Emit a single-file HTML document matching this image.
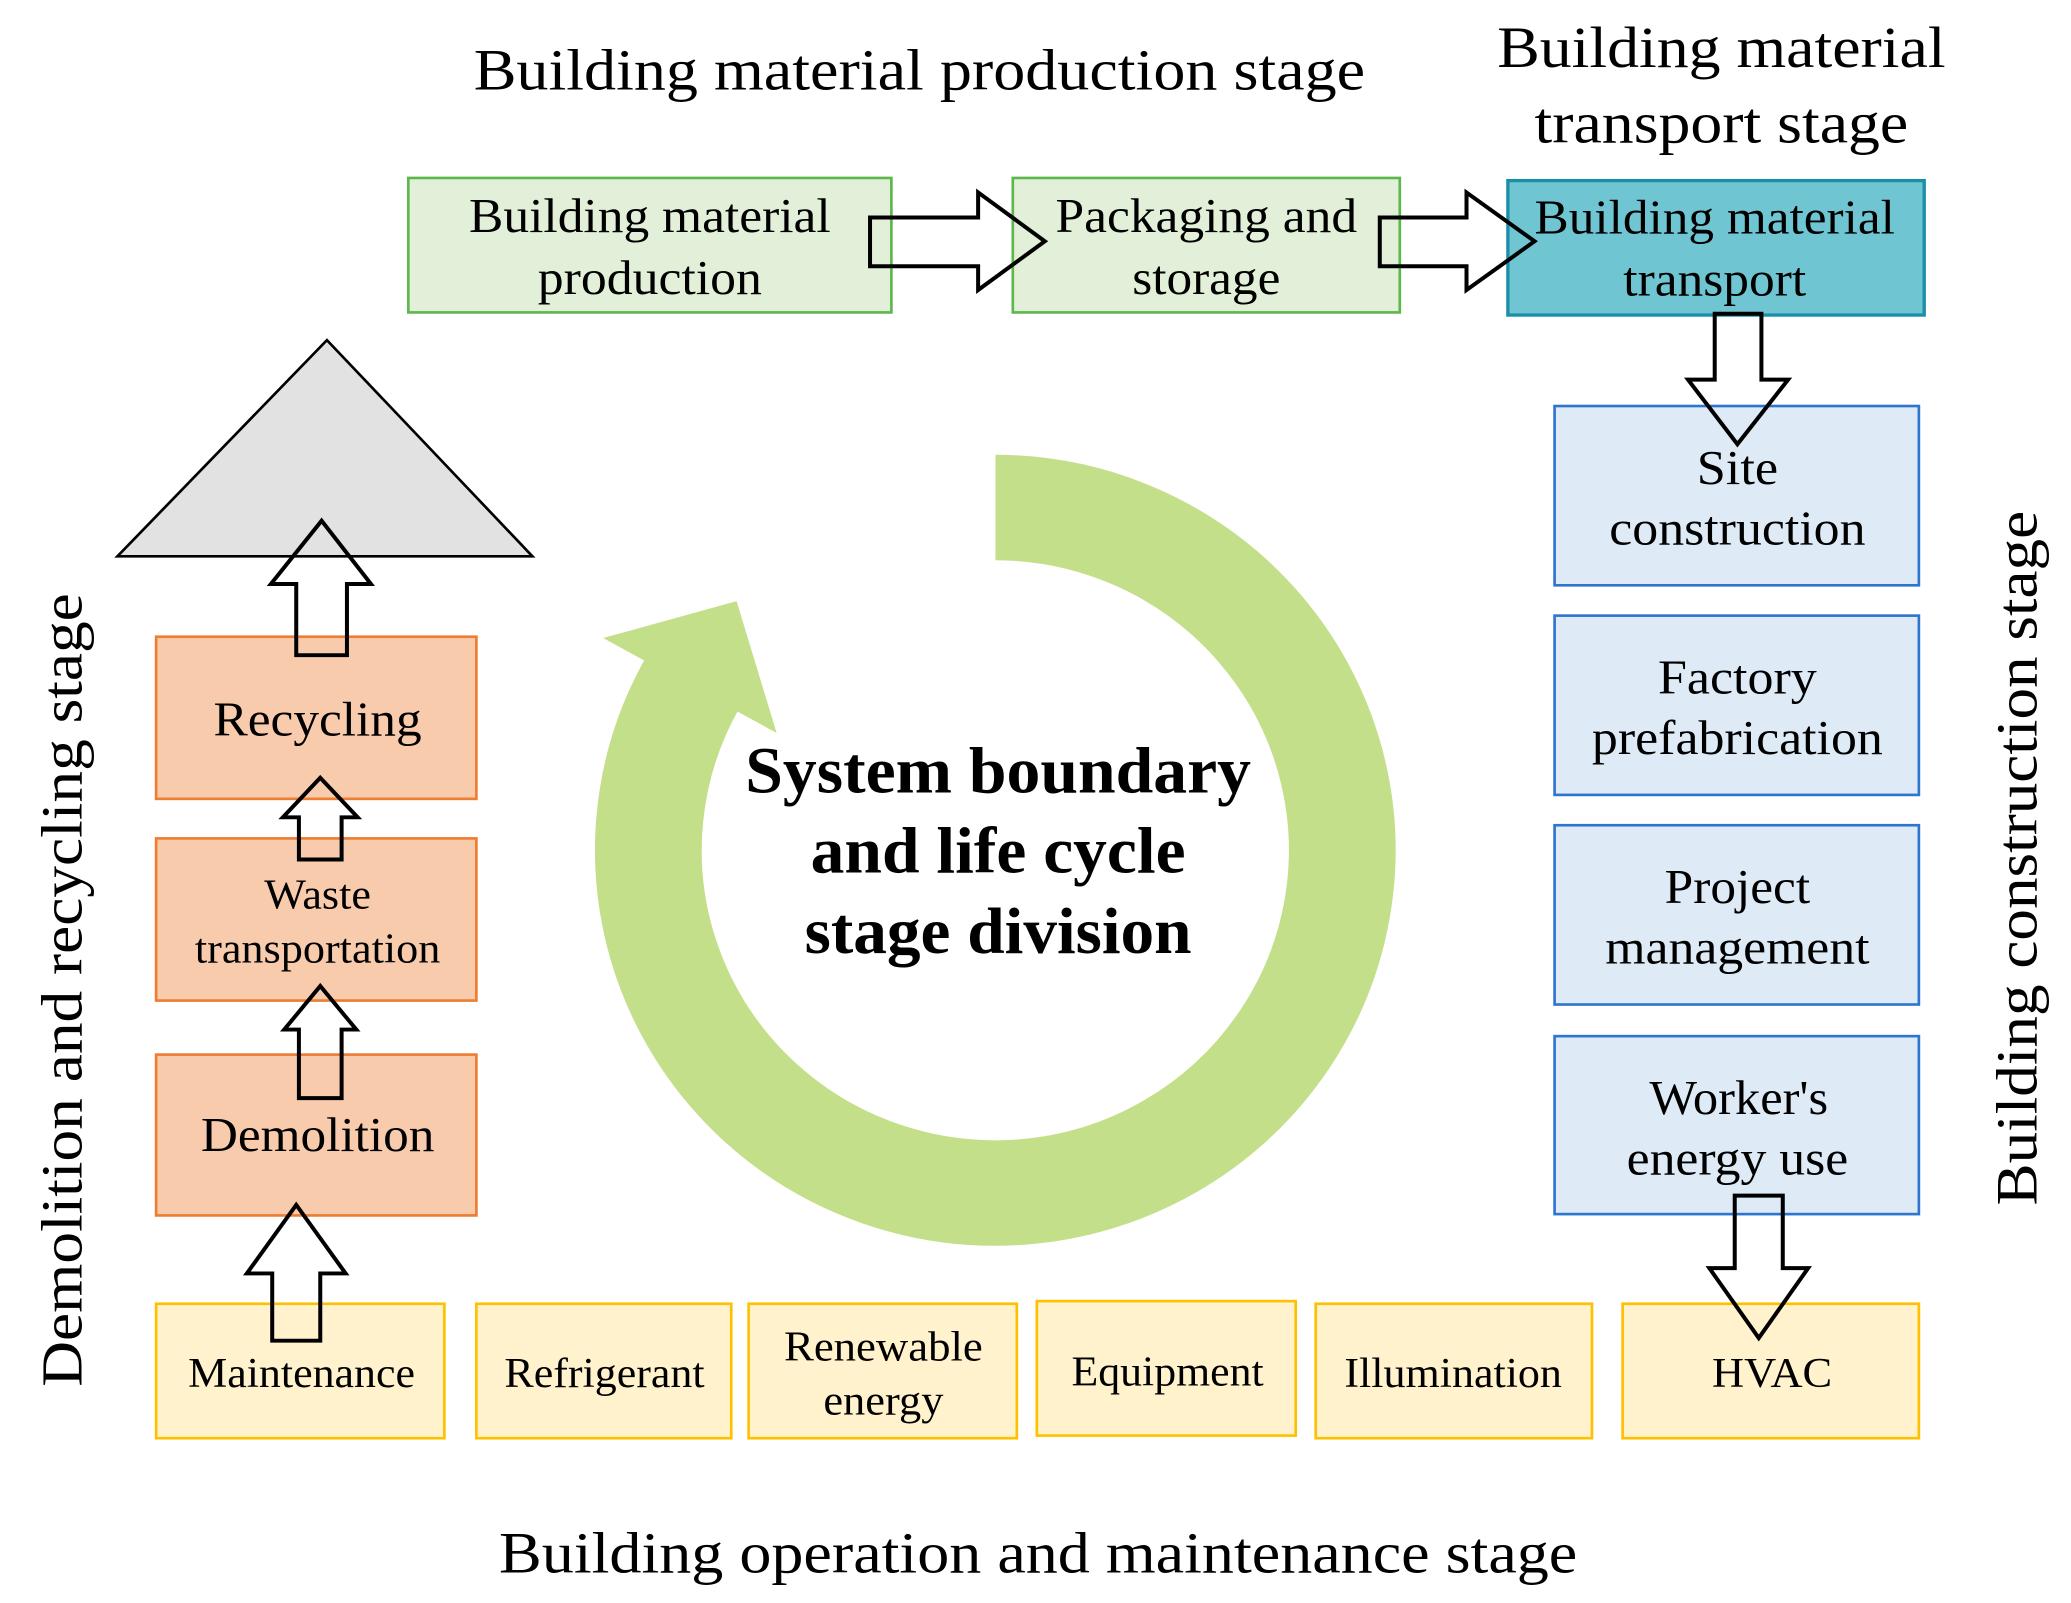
<!DOCTYPE html>
<html><head><meta charset="utf-8"><style>
html,body{margin:0;padding:0;background:#fff;}
svg{display:block;}
text{font-family:"Liberation Serif",serif;fill:#000;}
</style></head><body>
<svg width="2071" height="1603" viewBox="0 0 1552 1216" preserveAspectRatio="none" xmlns="http://www.w3.org/2000/svg">
<!-- titles -->
<g font-size="44" text-anchor="middle" lengthAdjust="spacingAndGlyphs">
<text x="689" y="68" textLength="668" lengthAdjust="spacingAndGlyphs">Building material production stage</text>
<text x="1290" y="51" textLength="336" lengthAdjust="spacingAndGlyphs">Building material</text>
<text x="1290" y="108" textLength="280" lengthAdjust="spacingAndGlyphs">transport stage</text>
<text x="778" y="1193" textLength="808" lengthAdjust="spacingAndGlyphs">Building operation and maintenance stage</text>
<text transform="translate(1526,651) rotate(-90)" textLength="527" lengthAdjust="spacingAndGlyphs">Building construction stage</text>
<text transform="translate(61,751) rotate(-90)" textLength="602" lengthAdjust="spacingAndGlyphs">Demolition and recycling stage</text>
</g>

<!-- top boxes -->
<rect x="306" y="135" width="362" height="102" fill="#e2f0d9" stroke="#5cb84a" stroke-width="2"/>
<rect x="759" y="135" width="290" height="102" fill="#e2f0d9" stroke="#5cb84a" stroke-width="2"/>
<rect x="1130" y="137" width="312" height="102" fill="#70c5d2" stroke="#1a8fa8" stroke-width="2.5"/>
<g font-size="37" text-anchor="middle">
<text x="487" y="176" textLength="271" lengthAdjust="spacingAndGlyphs">Building material</text><text x="487" y="223" textLength="168" lengthAdjust="spacingAndGlyphs">production</text>
<text x="904" y="176" textLength="226" lengthAdjust="spacingAndGlyphs">Packaging and</text><text x="904" y="223" textLength="111" lengthAdjust="spacingAndGlyphs">storage</text>
<text x="1285" y="177" textLength="270" lengthAdjust="spacingAndGlyphs">Building material</text><text x="1285" y="224" textLength="137" lengthAdjust="spacingAndGlyphs">transport</text>
</g>

<!-- blue boxes -->
<g fill="#deebf7" stroke="#2e75d0" stroke-width="2">
<rect x="1165" y="308" width="273" height="136"/>
<rect x="1165" y="467" width="273" height="136"/>
<rect x="1165" y="626" width="273" height="136"/>
<rect x="1165" y="786" width="273" height="135"/>
</g>
<g font-size="37" text-anchor="middle">
<text x="1302" y="367" textLength="61" lengthAdjust="spacingAndGlyphs">Site</text><text x="1302" y="413" textLength="192" lengthAdjust="spacingAndGlyphs">construction</text>
<text x="1302" y="526" textLength="119" lengthAdjust="spacingAndGlyphs">Factory</text><text x="1302" y="572" textLength="218" lengthAdjust="spacingAndGlyphs">prefabrication</text>
<text x="1302" y="685" textLength="109" lengthAdjust="spacingAndGlyphs">Project</text><text x="1302" y="731" textLength="198" lengthAdjust="spacingAndGlyphs">management</text>
<text x="1303" y="845" textLength="134" lengthAdjust="spacingAndGlyphs">Worker's</text><text x="1302" y="891" textLength="166" lengthAdjust="spacingAndGlyphs">energy use</text>
</g>

<!-- triangle -->
<polygon points="245,258 88,422 399,422" fill="#e2e2e2" stroke="#000" stroke-width="2"/>

<!-- orange boxes -->
<g fill="#f8cbad" stroke="#ed7d31" stroke-width="2">
<rect x="117" y="483" width="240" height="123"/>
<rect x="117" y="636" width="240" height="123"/>
<rect x="117" y="800" width="240" height="122"/>
</g>
<g text-anchor="middle">
<text x="238" y="558" font-size="37" textLength="156" lengthAdjust="spacingAndGlyphs">Recycling</text>
<text x="238" y="689" font-size="32" textLength="80" lengthAdjust="spacingAndGlyphs">Waste</text>
<text x="238" y="730" font-size="32" textLength="184" lengthAdjust="spacingAndGlyphs">transportation</text>
<text x="238" y="873" font-size="37" textLength="175" lengthAdjust="spacingAndGlyphs">Demolition</text>
</g>

<!-- yellow boxes -->
<g fill="#fff2cc" stroke="#ffc000" stroke-width="2">
<rect x="117" y="989" width="216" height="102"/>
<rect x="357" y="989" width="191" height="102"/>
<rect x="561" y="989" width="201" height="102"/>
<rect x="777" y="987" width="194" height="102"/>
<rect x="986" y="989" width="207" height="102"/>
<rect x="1216" y="989" width="222" height="102"/>
</g>
<g font-size="32" text-anchor="middle">
<text x="226" y="1052" textLength="170" lengthAdjust="spacingAndGlyphs">Maintenance</text>
<text x="453" y="1052" textLength="150" lengthAdjust="spacingAndGlyphs">Refrigerant</text>
<text x="662" y="1032" textLength="149" lengthAdjust="spacingAndGlyphs">Renewable</text><text x="662" y="1073" textLength="90" lengthAdjust="spacingAndGlyphs">energy</text>
<text x="875" y="1051" textLength="144" lengthAdjust="spacingAndGlyphs">Equipment</text>
<text x="1089" y="1052" textLength="163" lengthAdjust="spacingAndGlyphs">Illumination</text>
<text x="1328" y="1052" textLength="90" lengthAdjust="spacingAndGlyphs">HVAC</text>
</g>

<!-- green circular arrow -->
<path d="M746,385 A260,260 0 1 1 519,518" fill="none" stroke="#c4df8a" stroke-width="80"/>
<polygon points="452,484 552,456 582,556" fill="#c4df8a"/>

<g font-size="50" font-weight="bold" text-anchor="middle">
<text x="748" y="601" textLength="379" lengthAdjust="spacingAndGlyphs">System boundary</text>
<text x="748" y="662" textLength="281" lengthAdjust="spacingAndGlyphs">and life cycle</text>
<text x="748" y="723" textLength="290" lengthAdjust="spacingAndGlyphs">stage division</text>
</g>

<!-- hollow arrows -->
<g fill="none" stroke="#000" stroke-width="3" stroke-linejoin="miter">
<polygon points="652,165 733,165 733,146 783,183 733,220 733,202 652,202"/>
<polygon points="1034,165 1099,165 1099,146 1150,183 1099,220 1099,202 1034,202"/>
<polygon points="1285,238 1320,238 1320,288 1340,288 1302,337 1265,288 1285,288"/>
<polygon points="1300,907 1336,907 1336,962 1355,962 1318,1015 1281,962 1300,962"/>
<polygon points="222,497 260,497 260,443 278,443 241,395 203,443 222,443"/>
<polygon points="224,652 256,652 256,620 268,620 240,590 212,620 224,620"/>
<polygon points="224,833 256,833 256,781 267,781 240,748 213,781 224,781"/>
<polygon points="204,1017 240,1017 240,966 259,966 222,914 185,966 204,966"/>
</g>
</svg>
</body></html>
